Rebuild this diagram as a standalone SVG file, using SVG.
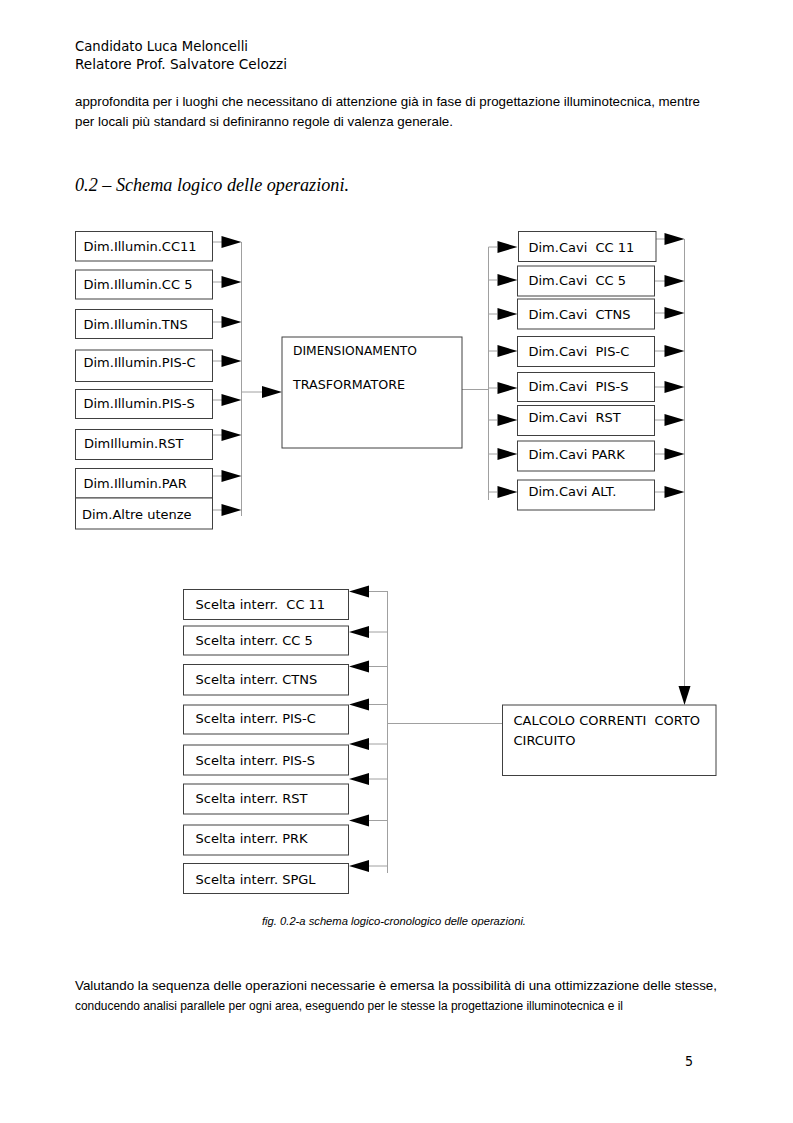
<svg xmlns="http://www.w3.org/2000/svg" width="793" height="1123" viewBox="0 0 793 1123">
<style>
.bg{fill:#fff}
.box{fill:#fff;stroke:#404040;stroke-width:1}
.lbl{font-family:"DejaVu Sans",sans-serif;font-size:13px;fill:#000;white-space:pre}
.cap{font-family:"DejaVu Sans",sans-serif;font-size:13px;fill:#000;white-space:pre}
.con{fill:none;stroke:#a0a0a0;stroke-width:1}
.ah{fill:#000}
.body{font-family:"Liberation Sans",Arial,sans-serif;font-size:13px;fill:#000}
.hdr{font-family:"DejaVu Sans Condensed","DejaVu Sans",sans-serif;font-size:14px;fill:#000}
</style>
<defs>
<path id="ar" d="M0,0 L-20,-6 L-20,6 Z"/>
<path id="al" d="M0,0 L20,-6 L20,6 Z"/>
<path id="ad" d="M0,0 L-6,-19 L6,-19 Z"/>
</defs>
<rect class="bg" width="793" height="1123"/>

<text class="hdr" x="75" y="51" textLength="173" lengthAdjust="spacingAndGlyphs">Candidato Luca Meloncelli</text>
<text class="hdr" x="75" y="69" textLength="212" lengthAdjust="spacingAndGlyphs">Relatore Prof. Salvatore Celozzi</text>
<text class="body" x="75" y="106" textLength="625" lengthAdjust="spacingAndGlyphs">approfondita per i luoghi che necessitano di attenzione già in fase di progettazione illuminotecnica, mentre</text>
<text class="body" x="75" y="126" textLength="378" lengthAdjust="spacingAndGlyphs">per locali più standard si definiranno regole di valenza generale.</text>
<text x="75" y="191" font-family="Liberation Serif,serif" font-style="italic" font-size="19" textLength="274" lengthAdjust="spacingAndGlyphs">0.2 – Schema logico delle operazioni.</text>

<g id="connectors">
<line class="con" x1="241.5" y1="242" x2="241.5" y2="516"/>
<line class="con" x1="212.5" y1="242" x2="222" y2="242"/>
<line class="con" x1="212.5" y1="282" x2="222" y2="282"/>
<line class="con" x1="212.5" y1="322" x2="222" y2="322"/>
<line class="con" x1="212.5" y1="361" x2="222" y2="361"/>
<line class="con" x1="212.5" y1="400" x2="222" y2="400"/>
<line class="con" x1="212.5" y1="435" x2="222" y2="435"/>
<line class="con" x1="212.5" y1="476" x2="222" y2="476"/>
<line class="con" x1="212.5" y1="510" x2="222" y2="510"/>
<use href="#ar" class="ah" x="241.5" y="242"/>
<use href="#ar" class="ah" x="241.5" y="282"/>
<use href="#ar" class="ah" x="241.5" y="322"/>
<use href="#ar" class="ah" x="241.5" y="361"/>
<use href="#ar" class="ah" x="241.5" y="400"/>
<use href="#ar" class="ah" x="241.5" y="435"/>
<use href="#ar" class="ah" x="241.5" y="476"/>
<use href="#ar" class="ah" x="241.5" y="510"/>
<line class="con" x1="241.5" y1="392" x2="262" y2="392"/>
<use href="#ar" class="ah" x="282" y="392"/>
<line class="con" x1="462" y1="389.5" x2="488.5" y2="389.5"/>
<line class="con" x1="488.5" y1="247" x2="488.5" y2="500"/>
<line class="con" x1="488.5" y1="247" x2="497" y2="247"/>
<line class="con" x1="488.5" y1="280" x2="497" y2="280"/>
<line class="con" x1="488.5" y1="314" x2="497" y2="314"/>
<line class="con" x1="488.5" y1="351" x2="497" y2="351"/>
<line class="con" x1="488.5" y1="388" x2="497" y2="388"/>
<line class="con" x1="488.5" y1="420" x2="497" y2="420"/>
<line class="con" x1="488.5" y1="454" x2="497" y2="454"/>
<line class="con" x1="488.5" y1="492" x2="497" y2="492"/>
<use href="#ar" class="ah" x="517.5" y="247"/>
<use href="#ar" class="ah" x="517.5" y="280"/>
<use href="#ar" class="ah" x="517.5" y="314"/>
<use href="#ar" class="ah" x="517.5" y="351"/>
<use href="#ar" class="ah" x="517.5" y="388"/>
<use href="#ar" class="ah" x="517.5" y="420"/>
<use href="#ar" class="ah" x="517.5" y="454"/>
<use href="#ar" class="ah" x="517.5" y="492"/>
<line class="con" x1="684.5" y1="239" x2="684.5" y2="687"/>
<line class="con" x1="656" y1="239" x2="665" y2="239"/>
<line class="con" x1="654.5" y1="281" x2="665" y2="281"/>
<line class="con" x1="654.5" y1="313" x2="665" y2="313"/>
<line class="con" x1="654.5" y1="351" x2="665" y2="351"/>
<line class="con" x1="654.5" y1="387" x2="665" y2="387"/>
<line class="con" x1="654.5" y1="420" x2="665" y2="420"/>
<line class="con" x1="654.5" y1="454" x2="665" y2="454"/>
<line class="con" x1="654.5" y1="492" x2="665" y2="492"/>
<use href="#ar" class="ah" x="684.5" y="239"/>
<use href="#ar" class="ah" x="684.5" y="281"/>
<use href="#ar" class="ah" x="684.5" y="313"/>
<use href="#ar" class="ah" x="684.5" y="351"/>
<use href="#ar" class="ah" x="684.5" y="387"/>
<use href="#ar" class="ah" x="684.5" y="420"/>
<use href="#ar" class="ah" x="684.5" y="454"/>
<use href="#ar" class="ah" x="684.5" y="492"/>
<use href="#ad" class="ah" x="684.5" y="705"/>
<line class="con" x1="387.5" y1="723.5" x2="502" y2="723.5"/>
<line class="con" x1="387.5" y1="591" x2="387.5" y2="873"/>
<line class="con" x1="369" y1="591.5" x2="387.5" y2="591.5"/>
<line class="con" x1="369" y1="632" x2="387.5" y2="632"/>
<line class="con" x1="369" y1="666.5" x2="387.5" y2="666.5"/>
<line class="con" x1="369" y1="704.5" x2="387.5" y2="704.5"/>
<line class="con" x1="369" y1="744" x2="387.5" y2="744"/>
<line class="con" x1="369" y1="779" x2="387.5" y2="779"/>
<line class="con" x1="369" y1="820.5" x2="387.5" y2="820.5"/>
<line class="con" x1="369" y1="866" x2="387.5" y2="866"/>
<use href="#al" class="ah" x="349" y="591.5"/>
<use href="#al" class="ah" x="349" y="632"/>
<use href="#al" class="ah" x="349" y="666.5"/>
<use href="#al" class="ah" x="349" y="704.5"/>
<use href="#al" class="ah" x="349" y="744"/>
<use href="#al" class="ah" x="349" y="779"/>
<use href="#al" class="ah" x="349" y="820.5"/>
<use href="#al" class="ah" x="349" y="866"/>
</g>

<g id="ill-cc11"><rect class="box" x="75.5" y="231.5" width="137" height="29.5"/><text class="lbl" x="83.5" y="251">Dim.Illumin.CC11</text></g>
<g id="ill-cc5"><rect class="box" x="75.5" y="270" width="137" height="29"/><text class="lbl" x="83.5" y="288.5">Dim.Illumin.CC 5</text></g>
<g id="ill-tns"><rect class="box" x="75.5" y="309.5" width="137" height="29"/><text class="lbl" x="83.5" y="328.5">Dim.Illumin.TNS</text></g>
<g id="ill-pisc"><rect class="box" x="75.5" y="350" width="137" height="31.5"/><text class="lbl" x="83.5" y="367">Dim.Illumin.PIS-C</text></g>
<g id="ill-piss"><rect class="box" x="75.5" y="389.5" width="137" height="29"/><text class="lbl" x="83.5" y="407.5">Dim.Illumin.PIS-S</text></g>
<g id="ill-rst"><rect class="box" x="75.5" y="429.5" width="137" height="30"/><text class="lbl" x="84" y="447.5">DimIllumin.RST</text></g>
<g id="ill-par"><rect class="box" x="75.5" y="468.5" width="137" height="29.5"/><text class="lbl" x="83.5" y="487.5">Dim.Illumin.PAR</text></g>
<g id="altre"><rect class="box" x="75.5" y="498" width="137" height="31"/><text class="lbl" x="82" y="519">Dim.Altre utenze</text></g>

<g id="trasformatore"><rect class="box" x="282" y="337" width="180" height="111"/><text class="cap" x="293" y="355" textLength="124" lengthAdjust="spacingAndGlyphs">DIMENSIONAMENTO</text><text class="cap" x="293" y="388.5" textLength="112" lengthAdjust="spacingAndGlyphs">TRASFORMATORE</text></g>

<g id="cavi-cc11"><rect class="box" x="518.5" y="231.5" width="137.5" height="30"/><text class="lbl" x="528.5" y="252">Dim.Cavi  CC 11</text></g>
<g id="cavi-cc5"><rect class="box" x="517.5" y="266" width="137" height="30"/><text class="lbl" x="528.5" y="285">Dim.Cavi  CC 5</text></g>
<g id="cavi-ctns"><rect class="box" x="517.5" y="299" width="137" height="30"/><text class="lbl" x="528.5" y="318.5">Dim.Cavi  CTNS</text></g>
<g id="cavi-pisc"><rect class="box" x="517.5" y="336.5" width="137" height="30"/><text class="lbl" x="528.5" y="355.5">Dim.Cavi  PIS-C</text></g>
<g id="cavi-piss"><rect class="box" x="517.5" y="372.5" width="137" height="29"/><text class="lbl" x="528.5" y="390.5">Dim.Cavi  PIS-S</text></g>
<g id="cavi-rst"><rect class="box" x="517.5" y="405.5" width="137" height="30"/><text class="lbl" x="528.5" y="422">Dim.Cavi  RST</text></g>
<g id="cavi-park"><rect class="box" x="517.5" y="441" width="137" height="30"/><text class="lbl" x="528.5" y="458.5">Dim.Cavi PARK</text></g>
<g id="cavi-alt"><rect class="box" x="517.5" y="480" width="137" height="30"/><text class="lbl" x="528.5" y="495.5">Dim.Cavi ALT.</text></g>

<g id="calcolo"><rect class="box" x="502.5" y="705" width="213.5" height="70.5"/><text class="cap" x="513.5" y="725">CALCOLO CORRENTI  CORTO</text><text class="cap" x="513.5" y="745">CIRCUITO</text></g>

<g id="int-cc11"><rect class="box" x="183.5" y="589.5" width="165" height="30"/><text class="lbl" x="195.5" y="608.5">Scelta interr.  CC 11</text></g>
<g id="int-cc5"><rect class="box" x="183.5" y="626" width="165" height="29"/><text class="lbl" x="195.5" y="644.5">Scelta interr. CC 5</text></g>
<g id="int-ctns"><rect class="box" x="183.5" y="664.5" width="165" height="30.5"/><text class="lbl" x="195.5" y="683.5">Scelta interr. CTNS</text></g>
<g id="int-pisc"><rect class="box" x="183.5" y="705" width="165" height="29"/><text class="lbl" x="195.5" y="723">Scelta interr. PIS-C</text></g>
<g id="int-piss"><rect class="box" x="183.5" y="745" width="165" height="30"/><text class="lbl" x="195.5" y="765">Scelta interr. PIS-S</text></g>
<g id="int-rst"><rect class="box" x="183.5" y="784" width="165" height="30"/><text class="lbl" x="195.5" y="803">Scelta interr. RST</text></g>
<g id="int-prk"><rect class="box" x="183.5" y="825" width="165" height="30"/><text class="lbl" x="195.5" y="843">Scelta interr. PRK</text></g>
<g id="int-spgl"><rect class="box" x="183.5" y="863.5" width="165" height="30"/><text class="lbl" x="195.5" y="883.5">Scelta interr. SPGL</text></g>

<text x="262" y="925" font-family="Liberation Sans,Arial,sans-serif" font-style="italic" font-size="10" textLength="264" lengthAdjust="spacingAndGlyphs">fig. 0.2-a schema logico-cronologico delle operazioni.</text>
<text class="body" x="75" y="990" textLength="642" lengthAdjust="spacingAndGlyphs">Valutando la sequenza delle operazioni necessarie è emersa la possibilità di una ottimizzazione delle stesse,</text>
<text class="body" x="75" y="1010" font-size="12.5" textLength="548" lengthAdjust="spacingAndGlyphs">conducendo analisi parallele per ogni area, eseguendo per le stesse la progettazione illuminotecnica e il</text>
<text class="hdr" x="685" y="1066">5</text>
</svg>
